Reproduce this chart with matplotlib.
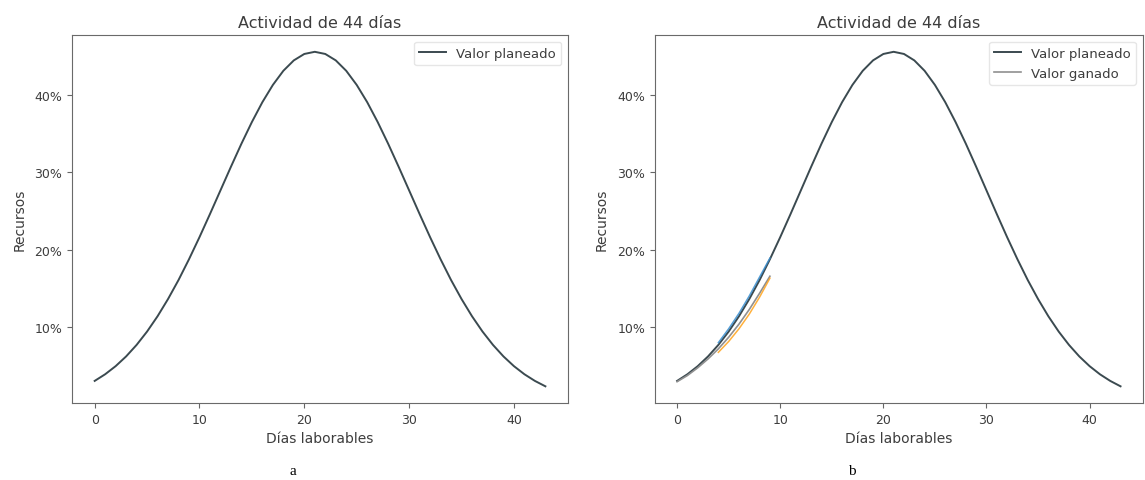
import matplotlib
matplotlib.use("Agg")
import matplotlib.pyplot as plt
from matplotlib.ticker import PercentFormatter

days = list(range(44))
planned = [3.00, 3.86, 4.91, 6.17, 7.66, 9.39, 11.37, 13.60, 16.06, 18.75,
           21.61, 24.60, 27.66, 30.72, 33.70, 36.51, 39.08, 41.31, 43.14, 44.49,
           45.32, 45.60, 45.32, 44.49, 43.14, 41.31, 39.08, 36.51, 33.70, 30.72,
           27.66, 24.60, 21.61, 18.75, 16.06, 13.60, 11.37, 9.39, 7.66, 6.17,
           4.91, 3.86, 3.00, 2.30]

earned_days = list(range(10))
earned = [2.90, 3.70, 4.70, 5.85, 7.15, 8.65, 10.35, 12.25, 14.35, 16.55]

blue_days = [4, 5, 6, 7, 8, 9]
blue_vals = [7.95, 9.75, 11.75, 14.00, 16.45, 18.90]
orange_days = [4, 5, 6, 7, 8, 9]
orange_vals = [6.70, 8.10, 9.75, 11.65, 13.85, 16.30]

title = "Actividad de 44 días"
xlabel = "Días laborables"
ylabel = "Recursos"
panel_labels = ["a", "b"]

text_c = "#3d3d3d"
plt.rcParams.update({
    "font.family": ["DejaVu Sans"],
    "font.size": 9,
    "text.color": text_c,
    "axes.labelcolor": text_c,
    "xtick.color": "#666666",
    "ytick.color": "#666666",
    "xtick.labelcolor": text_c,
    "ytick.labelcolor": text_c,
    "axes.edgecolor": "#6a6a6a",
})

fig = plt.figure(figsize=(11.45, 4.81), dpi=100)
ax1 = fig.add_axes([0.063, 0.160, 0.433, 0.765])
ax2 = fig.add_axes([0.572, 0.160, 0.426, 0.765])

plan_c = "#3b4a50"

for i, ax in enumerate([ax1, ax2]):
    ax.plot(days, planned, color=plan_c, lw=1.4, label="Valor planeado")
    if i == 1:
        ax.plot(earned_days, earned, color="#909090", lw=1.2, label="Valor ganado")
        ax.plot(blue_days, blue_vals, color="#3a8fd0", lw=1.1, alpha=0.85)
        ax.plot(orange_days, orange_vals, color="#ffa31a", lw=1.1, alpha=0.85)
    ax.set_title(title, fontsize=11.5, color=text_c)
    ax.set_xlabel(xlabel, fontsize=10)
    ax.set_ylabel(ylabel, fontsize=10, labelpad=6)
    ax.yaxis.set_major_formatter(PercentFormatter(xmax=100, decimals=0))
    ax.set_xticks([0, 10, 20, 30, 40])
    ax.set_yticks([10, 20, 30, 40])
    ax.legend(loc="upper right", fontsize=9.5, frameon=True, framealpha=0.8,
              edgecolor="#e0e0e0")

fig.text(0.256, 0.012, panel_labels[0], family=["Liberation Serif"], fontsize=11,
         color="black", ha="center")
fig.text(0.744, 0.012, panel_labels[1], family=["Liberation Serif"], fontsize=11,
         color="black", ha="center")

fig.savefig("out.png", dpi=100)
